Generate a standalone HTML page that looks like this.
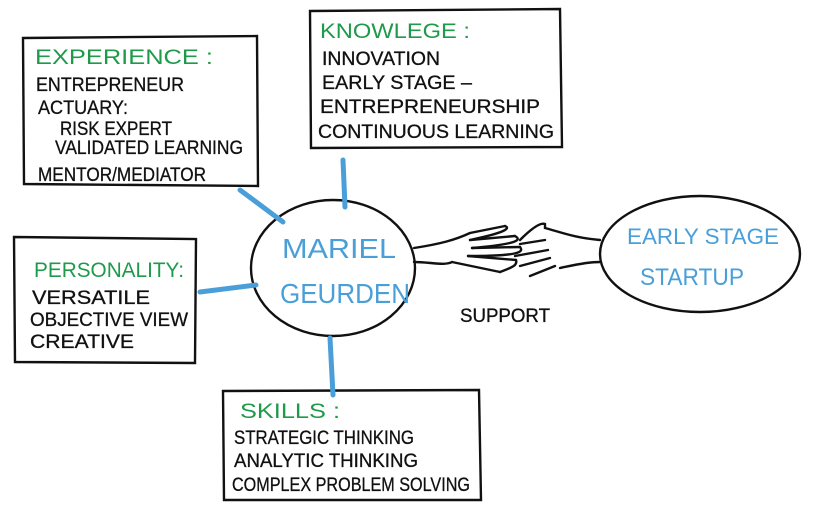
<!DOCTYPE html>
<html><head><meta charset="utf-8"><style>
html,body{margin:0;padding:0;background:#fff;}
svg{display:block;}
text{font-family:"Liberation Sans",sans-serif;}
.k{fill:#111;font-size:19px;stroke:#111;stroke-width:0.3;}
.g{fill:#1f9a4a;font-size:21px;}
.b{fill:#4a9fd8;font-size:28px;}
</style></head><body>
<svg width="818" height="527" viewBox="0 0 818 527" xmlns="http://www.w3.org/2000/svg">
<rect width="818" height="527" fill="#fff"/>
<g fill="none" stroke="#111" stroke-width="2.4" stroke-linecap="round">
<path d="M23 38 L257 36 L258 186 L24 184 Z"/>
<path d="M310 11 L560 9 L562 147 L311 148 Z"/>
<path d="M14 237 L196 239 L195 363 L15 362 Z"/>
<path d="M223 391 L479 390 L481 500 L224 500 Z"/>
<ellipse cx="333" cy="268" rx="82" ry="68"/>
<ellipse cx="700" cy="254" rx="100" ry="58"/>
<!-- left hand -->
<path d="M414 248 C440 244 455 240 470 233 L505 226 M470 240 L515 236 M472 248 L520 247 M468 256 L516 260 M452 262 L500 272 M414 262 C430 262 445 266 452 262"/>
<path d="M505 226 C510 228 508 232 470 240 M515 236 C522 240 518 244 472 248 M520 247 C524 252 520 256 468 256 M516 260 C518 266 510 268 500 272"/>
<!-- right hand -->
<path d="M600 240 C575 238 560 232 545 228 L545 224 C540 222 530 230 520 240 M545 240 L520 244 M548 250 L515 256 M550 258 L520 266 M555 266 L530 276 M600 262 C585 262 570 266 560 268"/>
</g>
<g stroke="#4a9fd8" stroke-width="5" stroke-linecap="round" fill="none">
<path d="M240 190 L283 222"/>
<path d="M343 160 L345 207"/>
<path d="M200 292 L256 285"/>
<path d="M330 338 L333 395"/>
</g>
<text class="g" x="35" y="64" textLength="178" lengthAdjust="spacingAndGlyphs">EXPERIENCE :</text>
<text class="k" x="36" y="91" textLength="148" lengthAdjust="spacingAndGlyphs">ENTREPRENEUR</text>
<text class="k" x="38" y="114" textLength="90" lengthAdjust="spacingAndGlyphs">ACTUARY:</text>
<text class="k" x="60" y="135" textLength="112" lengthAdjust="spacingAndGlyphs">RISK EXPERT</text>
<text class="k" x="55" y="154" textLength="188" lengthAdjust="spacingAndGlyphs">VALIDATED LEARNING</text>
<text class="k" x="38" y="181" textLength="168" lengthAdjust="spacingAndGlyphs">MENTOR/MEDIATOR</text>

<text class="g" x="320" y="38" textLength="150" lengthAdjust="spacingAndGlyphs">KNOWLEGE :</text>
<text class="k" x="322" y="65" textLength="118" lengthAdjust="spacingAndGlyphs">INNOVATION</text>
<text class="k" x="322" y="89" textLength="150" lengthAdjust="spacingAndGlyphs">EARLY STAGE –</text>
<text class="k" x="320" y="113" textLength="220" lengthAdjust="spacingAndGlyphs">ENTREPRENEURSHIP</text>
<text class="k" x="318" y="138" textLength="236" lengthAdjust="spacingAndGlyphs">CONTINUOUS LEARNING</text>

<text class="g" x="34" y="277" textLength="150" lengthAdjust="spacingAndGlyphs">PERSONALITY:</text>
<text class="k" x="32" y="304" textLength="118" lengthAdjust="spacingAndGlyphs">VERSATILE</text>
<text class="k" x="30" y="326" textLength="158" lengthAdjust="spacingAndGlyphs">OBJECTIVE VIEW</text>
<text class="k" x="30" y="348" textLength="104" lengthAdjust="spacingAndGlyphs">CREATIVE</text>

<text class="g" x="240" y="418" textLength="100" lengthAdjust="spacingAndGlyphs">SKILLS :</text>
<text class="k" x="234" y="444" textLength="180" lengthAdjust="spacingAndGlyphs">STRATEGIC THINKING</text>
<text class="k" x="234" y="467" textLength="184" lengthAdjust="spacingAndGlyphs">ANALYTIC THINKING</text>
<text class="k" x="232" y="491" textLength="238" lengthAdjust="spacingAndGlyphs">COMPLEX PROBLEM SOLVING</text>

<text class="b" x="282" y="258" textLength="114" lengthAdjust="spacingAndGlyphs">MARIEL</text>
<text class="b" x="280" y="303" textLength="130" lengthAdjust="spacingAndGlyphs">GEURDEN</text>
<text class="b" x="627" y="244" textLength="152" lengthAdjust="spacingAndGlyphs" style="font-size:22px">EARLY STAGE</text>
<text class="b" x="640" y="285" textLength="104" lengthAdjust="spacingAndGlyphs" style="font-size:24px">STARTUP</text>
<text class="k" x="460" y="322" textLength="90" lengthAdjust="spacingAndGlyphs">SUPPORT</text>
</svg>
</body></html>
